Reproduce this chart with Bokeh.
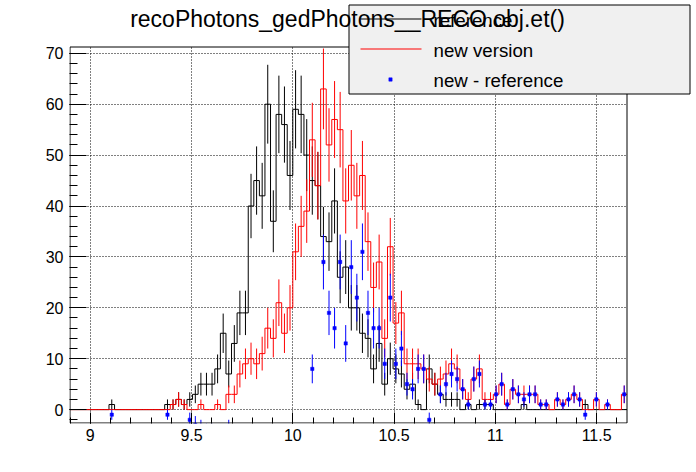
import numpy as np
from bokeh.plotting import figure
from bokeh.models import (Range1d, FixedTicker, CustomJSTickFormatter, Label)
from bokeh.embed import file_html
from bokeh.resources import INLINE

# histogram definition
x_min, x_max, n_bins = 8.9, 11.65, 100
y_lo, y_hi = -2.63, 71.24

# reference (black)
reference = [0, 0, 0, 0, 0, 0, 0, 1, 0, 0,
             0, 0, 0, 0, 0, 0, 0, 1, 1, 2,
             1, 2, 3, 5, 5, 5, 8, 15, 7, 13,
             19, 19, 40, 45, 42, 60, 37, 58, 56, 46,
             59, 58, 50, 45, 44, 34, 33, 41, 26, 28,
             20, 20, 15, 14, 8, 13, 5, 10, 8, 7,
             4, 5, 1, 0, 8, 5, 3, 2, 2, 2,
             0, 1, 0, 1, 1, 1, 0, 0, 0, 0,
             0, 1, 0, 0, 0, 0, 0, 0, 0, 0,
             0, 0, 1, 0, 0, 0, 0, 0, 0, 0]

# new version (red)
new_version = [0, 0, 0, 0, 0, 0, 0, 0, 0, 0,
               0, 0, 0, 0, 0, 0, 0, 0, 1, 2,
               1, 0, 0, 1, 0, 0, 1, 0, 3, 3,
               7, 9, 10, 9, 11, 16, 14, 21, 15, 20,
               31, 36, 39, 53, 44, 63, 52, 57, 55, 41,
               48, 42, 46, 33, 24, 29, 14, 32, 17, 19,
               9, 9, 9, 8, 6, 5, 6, 7, 9, 8,
               4, 2, 6, 8, 2, 2, 3, 5, 1, 4,
               3, 3, 3, 3, 1, 1, 0, 2, 1, 2,
               3, 2, 0, 0, 2, 0, 1, 0, 0, 3]

# new - reference (blue)
new_minus_reference = [0, 0, 0, 0, 0, 0, 0, -1, 0, 0,
                       0, 0, 0, 0, 0, 0, 0, -1, 0, 0,
                       0, -2, -3, -4, -5, -5, -7, -15, -4, -10,
                       -12, -10, -30, -36, -31, -44, -23, -37, -41, -26,
                       -28, -22, -11, 8, 0, 29, 19, 16, 29, 13,
                       28, 22, 31, 19, 16, 16, 9, 22, 9, 12,
                       5, 4, 8, 8, -2, 0, 3, 5, 7, 6,
                       4, 1, 6, 7, 1, 1, 3, 5, 1, 4,
                       3, 2, 3, 3, 1, 1, 0, 2, 1, 2,
                       3, 2, -1, 0, 2, 0, 1, 0, 0, 3]

x_major = [9, 9.5, 10, 10.5, 11, 11.5]
x_minor = [round(8.9 + 0.1 * i, 1) for i in range(28)]
y_major = [0, 10, 20, 30, 40, 50, 60, 70]
y_minor = list(range(-2, 71, 2))

title_text = "recoPhotons_gedPhotons__RECO.obj.et()"
legend_labels = ["reference", "new version", "new - reference"]

FONT = "Liberation Sans"
W, H = 696, 472
# ROOT frame in canvas pixels
FR_L, FR_R, FR_T, FR_B = 69.5, 626.5, 46.5, 422.5
SX = (FR_R - FR_L) / (x_max - x_min)
SY = (FR_B - FR_T) / (y_hi - y_lo)
BK_L, BK_B = 69, 423   # bokeh frame left / bottom edge (pixels)

def dx(px):
    return x_min + (px - FR_L) / SX

def dy(py):
    return y_lo + (FR_B - py) / SY

edges = np.linspace(x_min, x_max, n_bins + 1)
centers = 0.5 * (edges[:-1] + edges[1:])

p = figure(width=W, height=H, output_backend="svg", toolbar_location=None, title_location=None,
           x_range=Range1d(dx(BK_L), dx(W)), y_range=Range1d(dy(BK_B), dy(0)),
           min_border_left=BK_L, min_border_right=0, min_border_top=0, min_border_bottom=H - BK_B)
p.background_fill_color = "white"
p.border_fill_color = "white"
p.outline_line_color = None

# axes (ticks inside, ROOT style)
p.xaxis.ticker = FixedTicker(ticks=x_major, minor_ticks=x_minor)
p.yaxis.ticker = FixedTicker(ticks=y_major, minor_ticks=y_minor)
p.xaxis.formatter = CustomJSTickFormatter(code="return String(Math.round(tick*10)/10);")
for ax in (p.xaxis[0], p.yaxis[0]):
    ax.axis_line_color = None
    ax.major_tick_line_color = "black"
    ax.minor_tick_line_color = "black"
    ax.major_tick_out = 0
    ax.minor_tick_out = 0
    ax.major_label_text_font = FONT
    ax.major_label_text_font_size = "16px"
    ax.major_label_text_color = "black"
p.xaxis.major_label_standoff = 5
p.yaxis.major_label_standoff = 6
p.xaxis.major_tick_in = 11
p.xaxis.minor_tick_in = 6
p.yaxis.major_tick_in = 17
p.yaxis.minor_tick_in = 8

for g in (p.xgrid[0], p.ygrid[0]):
    g.grid_line_color = "black"
    g.grid_line_dash = "1 2"
    g.grid_line_width = 1

def hist(values, color):
    v = np.asarray(values, dtype=float)
    ys = np.append(v, v[-1])
    p.step(edges, ys, mode="after", line_color=color, line_width=1)
    m = v > 0
    err = np.sqrt(v[m])
    p.segment(centers[m], v[m] - err, centers[m], v[m] + err, line_color=color, line_width=1)

hist(reference, "black")
hist(new_version, "red")

d = np.asarray(new_minus_reference, dtype=float)
md = d != 0
derr = np.sqrt(np.abs(d[md]))
p.segment(centers[md], d[md] - derr, centers[md], d[md] + derr, line_color="blue", line_width=1)
p.scatter(centers[md], d[md], marker="square", size=3.3, fill_color="blue", line_color="blue", line_width=0.5)

# white area outside the ROOT frame (inside the bokeh frame)
xr_end, yr_end = dx(W + 5), dy(-5)
p.quad(left=[x_max], right=[xr_end], bottom=[dy(BK_B + 5)], top=[yr_end],
       fill_color="white", line_color=None)
p.quad(left=[dx(BK_L - 5)], right=[xr_end], bottom=[y_hi], top=[yr_end],
       fill_color="white", line_color=None)
# ROOT frame
p.quad(left=[x_min], right=[x_max], bottom=[y_lo], top=[y_hi],
       fill_color=None, line_color="black", line_width=1)

# legend box
p.quad(left=[dx(348.5)], right=[dx(689.5)], bottom=[dy(93.5)], top=[dy(4.5)],
       fill_color="#f0f0f0", line_color="black", line_width=1)
p.segment([dx(360)], [dy(18.5)], [dx(421)], [dy(18.5)], line_color="black", line_width=1)
p.segment([dx(360)], [dy(48.5)], [dx(421)], [dy(48.5)], line_color="red", line_width=1)
p.scatter([dx(390)], [dy(79)], marker="square", size=3.3, fill_color="blue", line_color="blue", line_width=0.5)

for lab, yb in zip(legend_labels, (20, 50, 80)):
    p.add_layout(Label(x=433, y=yb, x_units="canvas", y_units="canvas", text=lab,
                       text_align="left", text_baseline="alphabetic", text_font=FONT,
                       text_font_size="18.7px", text_color="black"))

p.add_layout(Label(x=347, y=18, x_units="canvas", y_units="canvas", text=title_text,
                   text_align="center", text_baseline="alphabetic", text_font=FONT,
                   text_font_size="23px", text_color="black"))

open("out.html", "w").write(file_html(p, INLINE))
